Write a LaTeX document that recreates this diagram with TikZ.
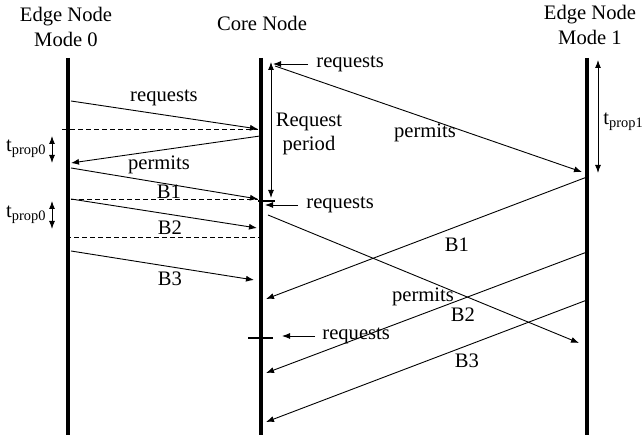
\documentclass[tikz,border=0pt]{standalone}
\usepackage{fontspec}
\setmainfont{Liberation Serif}
\usetikzlibrary{arrows.meta}

\begin{document}
\begin{tikzpicture}[x=0.5pt,y=-0.5pt,
        font=\fontsize{10.3}{12.2}\selectfont,
        life/.style={line width=2pt},
        msg/.style={line width=0.45pt,-{Latex[length=4pt,width=3pt]}},
        back/.style={line width=0.45pt,dashed,dash pattern=on 2.5pt off 1.5pt},
        span/.style={line width=0.5pt,{Latex[length=4pt,width=3pt]}-{Latex[length=4pt,width=3pt]}},
        lbl/.style={inner sep=0pt}]
        \useasboundingbox (0,0) rectangle (644,438);

        \node[align=center] (edgezero) at (66,27) {Edge Node\\Mode 0};
        \node (core) at (262,23) {Core Node};
        \node[align=center] (edgeone) at (590,25) {Edge Node\\Mode 1};

        \coordinate (e0top) at (68,58);  \coordinate (e0bot) at (68,435);
        \coordinate (ctop) at (261,58);  \coordinate (cbot) at (261,435);
        \coordinate (e1top) at (587,58); \coordinate (e1bot) at (587,435);
        \draw[life] (e0top) -- (e0bot);
        \draw[life] (ctop) -- (cbot);
        \draw[life] (e1top) -- (e1bot);

        % mode 0 side
        \coordinate (reqout) at (71,101);  \coordinate (reqin) at (258,129);
        \coordinate (dasha) at (62,129);
        \coordinate (perout) at (260,136); \coordinate (perin) at (71,163);
        \coordinate (bout) at (71,168);    \coordinate (bin) at (258,199);
        \coordinate (dashb) at (71,199);
        \coordinate (bbout) at (71,199);   \coordinate (bbin) at (257,228);
        \coordinate (dashc) at (66,237);   \coordinate (dashcend) at (260,237);
        \coordinate (bbbout) at (71,251);  \coordinate (bbbin) at (254,280);

        \draw[msg] (reqout) -- (reqin);
        \draw[back] (dasha) -- (reqin);
        \draw[msg] (perout) -- (perin);
        \draw[msg] (bout) -- (bin);
        \draw[back] (dashb) -- (bin);
        \draw[msg] (bbout) -- (bbin);
        \draw[back] (dashc) -- (dashcend);
        \draw[msg] (bbbout) -- (bbbin);

        \node[lbl] (reqlbl) at (164,98) {requests};
        \node[lbl] (perlbl) at (159,165) {permits};
        \node[lbl] (bonelbl) at (169,192) {B1};
        \node[lbl] (btwolbl) at (170,228) {B2};
        \node[lbl] (bthreelbl) at (170,279) {B3};

        \coordinate (tpa) at (52,136); \coordinate (tpb) at (52,163);
        \coordinate (tpc) at (52,201); \coordinate (tpd) at (52,229);
        \draw[span] (tpa) -- (tpb);
        \draw[span] (tpc) -- (tpd);
        \node[lbl,anchor=east] (tpzero) at (47,149) {t\textsubscript{prop0}};
        \node[lbl,anchor=east] (tpzerob) at (47,215) {t\textsubscript{prop0}};

        % core side
        \coordinate (rqa) at (308,64);  \coordinate (rqatip) at (273,64);
        \coordinate (rqb) at (298,205); \coordinate (rqbtip) at (265,205);
        \coordinate (rqc) at (315,336); \coordinate (rqctip) at (282,336);
        \draw[msg] (rqa) -- (rqatip);
        \draw[msg] (rqb) -- (rqbtip);
        \draw[msg] (rqc) -- (rqctip);
        \node[lbl,anchor=west] (rqalbl) at (316,64) {requests};
        \node[lbl,anchor=west] (rqblbl) at (306,205) {requests};
        \node[lbl,anchor=west] (rqclbl) at (322,336) {requests};

        \coordinate (rpa) at (271,62); \coordinate (rpb) at (271,198);
        \draw[span] (rpa) -- (rpb);
        \coordinate (ticka) at (258,201); \coordinate (tickb) at (275,201);
        \draw[line width=0.6pt] (ticka) -- (tickb);
        \coordinate (tickc) at (248,338); \coordinate (tickd) at (273,338);
        \draw[line width=0.6pt] (tickc) -- (tickd);
        \node[align=center] (rplbl) at (309,134) {Request\\period};

        % mode 1 side
        \coordinate (pa) at (275,66);  \coordinate (pain) at (582,172);
        \coordinate (pb) at (268,215); \coordinate (pbin) at (579,343);
        \coordinate (ba) at (587,177); \coordinate (bain) at (266,299);
        \coordinate (bb) at (587,252); \coordinate (bbin2) at (266,373);
        \coordinate (bc) at (587,300); \coordinate (bcin) at (266,422);
        \draw[msg] (pa) -- (pain);
        \draw[msg] (pb) -- (pbin);
        \draw[msg] (ba) -- (bain);
        \draw[msg] (bb) -- (bbin2);
        \draw[msg] (bc) -- (bcin);

        \node[lbl] (palbl) at (425,133) {permits};
        \node[lbl] (pblbl) at (423,297) {permits};
        \node[lbl] (balbl) at (457,245) {B1};
        \node[lbl] (bblbl) at (463,315) {B2};
        \node[lbl] (bclbl) at (467,361) {B3};

        \coordinate (tpe) at (598,60); \coordinate (tpf) at (598,173);
        \draw[span] (tpe) -- (tpf);
        \node[lbl,anchor=west] (tpone) at (603,122) {t\textsubscript{prop1}};
\end{tikzpicture}
\end{document}
